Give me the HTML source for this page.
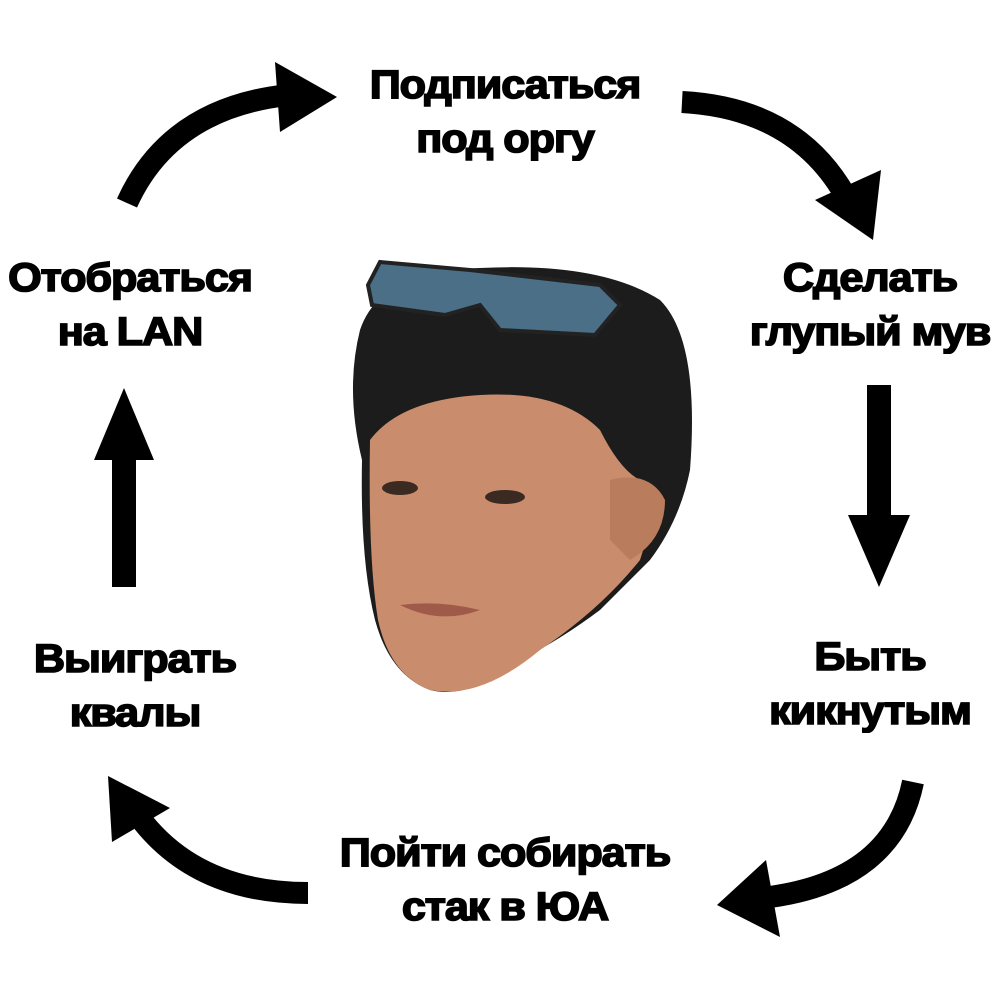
<!DOCTYPE html>
<html><head><meta charset="utf-8"><style>
html,body{margin:0;padding:0;background:#fff;}
.c{position:relative;width:1000px;height:1000px;overflow:hidden;background:#fff;}
.t{position:absolute;font-family:"Liberation Sans",sans-serif;font-weight:bold;font-size:40px;line-height:54px;color:#000;text-align:center;width:400px;transform:scaleX(1.08);letter-spacing:-1px;-webkit-text-stroke:1.6px #000;}
svg{position:absolute;left:0;top:0;}
</style></head><body><div class="c">
<svg width="1000" height="1000" viewBox="0 0 1000 1000">
<g fill="none" stroke="#000" stroke-width="22">
<path d="M127,203 Q170,108 288,95"/>
<path d="M682,102 Q795,108 845,195"/>
<path d="M913,782 Q893,880 770,897"/>
<path d="M308,893 Q200,893 143,822"/>
</g>
<g fill="#000">
<polygon points="275,62 337,97 280,132"/>
<polygon points="815,200 873,240 881,170"/>
<polygon points="766,860 717,905 780,937"/>
<polygon points="108,776 112,842 170,808"/>
<rect x="867" y="385" width="24" height="135"/>
<polygon points="848,515 910,515 879,587"/>
<rect x="112" y="455" width="24" height="132"/>
<polygon points="94,460 154,460 124,388"/>
</g>
<path d="M360,330 Q380,270 480,268 Q600,262 660,300 Q700,340 690,470 Q680,520 650,560 L600,610 Q560,640 520,660 Q470,700 430,690 Q390,675 375,620 Q360,560 362,460 Q345,390 360,330Z" fill="#1c1c1c"/>
<path d="M370,440 Q400,400 480,395 Q560,390 600,430 Q620,470 640,480 Q660,500 640,560 Q600,610 540,650 Q480,700 430,690 Q390,675 378,620 Q368,560 370,440Z" fill="#c98c6c"/>
<path d="M610,480 Q650,470 665,500 Q665,540 630,560 L610,540Z" fill="#b97c5c"/>
<path d="M400,605 Q440,600 480,610 Q440,625 400,605Z" fill="#a05a4a"/>
<ellipse cx="400" cy="488" rx="18" ry="7" fill="#3a2a22"/>
<ellipse cx="505" cy="497" rx="20" ry="7" fill="#3a2a22"/>
<path d="M368,285 L380,262 L470,270 L600,285 L620,305 L595,335 L500,330 L480,305 L445,315 L372,305Z" fill="#4a6f86" stroke="#222" stroke-width="4"/>
</svg>
<div class="t" style="left:305px;top:58px;">Подписаться<br>под оргу</div>
<div class="t" style="left:-70px;top:251px;">Отобраться<br>на LAN</div>
<div class="t" style="left:670px;top:251px;">Сделать<br>глупый мув</div>
<div class="t" style="left:-65px;top:632px;">Выиграть<br>квалы</div>
<div class="t" style="left:670px;top:630px;">Быть<br>кикнутым</div>
<div class="t" style="left:305px;top:826px;">Пойти собирать<br>стак в ЮА</div>
</div></body></html>
